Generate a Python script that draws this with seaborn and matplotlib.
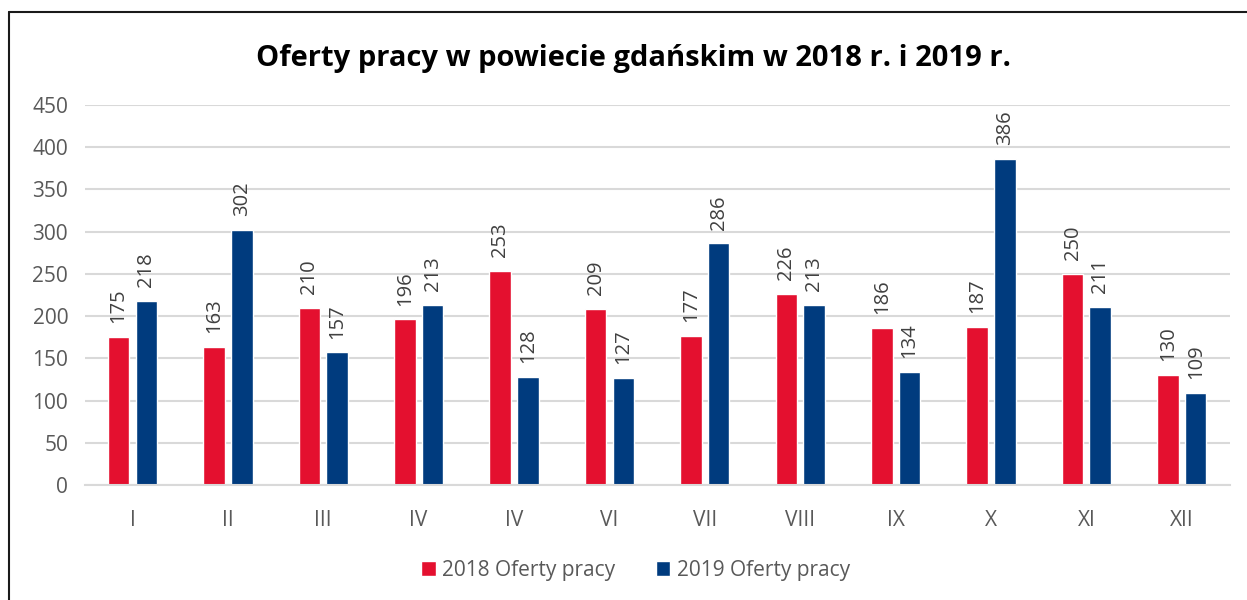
import matplotlib
matplotlib.use("Agg")
import matplotlib.pyplot as plt
from matplotlib.lines import Line2D
import pandas as pd
import seaborn as sns

# dane z wykresu
months = ["I", "II", "III", "IV", "IV", "VI", "VII", "VIII", "IX", "X", "XI", "XII"]
offers_2018 = [175, 163, 210, 196, 253, 209, 177, 226, 186, 187, 250, 130]
offers_2019 = [218, 302, 157, 213, 128, 127, 286, 213, 134, 386, 211, 109]
series_names = ["2018 Oferty pracy", "2019 Oferty pracy"]
colors = ["#E4102F", "#003B7E"]

df = pd.DataFrame({
    "pos": list(range(len(months))) * 2,
    "value": offers_2018 + offers_2019,
    "series": [series_names[0]] * len(months) + [series_names[1]] * len(months),
})

sns.set_theme(style="white")
plt.rcParams["font.family"] = ["Open Sans", "DejaVu Sans"]

fig = plt.figure(figsize=(12.47, 6.0), dpi=100)
ax = fig.add_axes([0.068, 0.1917, 0.918, 0.6333])

sns.barplot(data=df, x="pos", y="value", hue="series", palette=colors,
            width=0.58, gap=0.22, ax=ax, saturation=1)

for cont in ax.containers:
    ax.bar_label(cont, rotation=90, padding=10, fontsize=14.5, color="#404040")

ax.set_ylim(0, 450)
ax.set_yticks(range(0, 451, 50))
ax.set_xlim(-0.5, len(months) - 0.5)
ax.set_xticks(range(len(months)))
ax.set_xticklabels(months)
ax.tick_params(axis="both", labelsize=15, colors="#595959", length=0)
ax.tick_params(axis="x", pad=18)
ax.tick_params(axis="y", pad=12)
ax.set_xlabel("")
ax.set_ylabel("")
ax.yaxis.grid(True, color="#D9D9D9", linewidth=1.5)
ax.set_axisbelow(True)
for s in ["left", "right", "top"]:
    ax.spines[s].set_visible(False)
ax.spines["bottom"].set_color("#D9D9D9")
ax.spines["bottom"].set_linewidth(1.5)

ax.legend(loc="center", bbox_to_anchor=(0.481, -0.225), ncol=2, frameon=False,
          fontsize=15, labelcolor="#595959", handlelength=0.7, handleheight=0.7,
          handletextpad=0.3, columnspacing=1.95)

fig.suptitle("Oferty pracy w powiecie gdańskim w 2018 r. i 2019 r.",
             x=0.508, y=0.927, fontsize=21, fontweight="bold", color="black")

# ramka wykresu (lewa i górna krawędź)
fig.add_artist(Line2D([9 / 1247, 9 / 1247], [0, 1 - 12 / 600], color="#1a1a1a", linewidth=1.5))
fig.add_artist(Line2D([9 / 1247, 1], [1 - 12 / 600, 1 - 12 / 600], color="#1a1a1a", linewidth=1.5))

plt.savefig("out.png", dpi=100)
